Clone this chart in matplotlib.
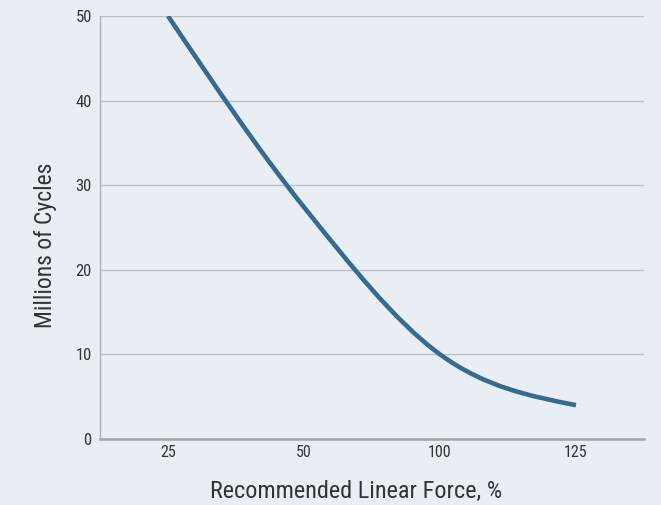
import matplotlib
matplotlib.use("Agg")
import matplotlib.pyplot as plt
from matplotlib.path import Path
from matplotlib.patches import PathPatch
from matplotlib import font_manager

# ---- data ----
categories = ["25", "50", "100", "125"]
cycles = [50.0, 27.4, 10.0, 4.0]
y_ticks = [0, 10, 20, 30, 40, 50]

BG = "#E9EEF5"
LINE = "#376B8E"
GRID = "#BDBFC2"
TEXT = "#333333"

# find a condensed / narrow font file if any
cands = []
for f in font_manager.fontManager.ttflist:
    fn = f.fname.lower()
    if ("narrow" in fn or "condensed" in fn) and "bold" not in fn and "italic" not in fn \
            and "oblique" not in fn and "light" not in fn and "thin" not in fn \
            and "medium" not in fn and "semi" not in fn and "black" not in fn:
        cands.append(f.fname)
cands.sort(key=lambda p: (0 if "liberationsansnarrow" in p.lower().replace("-", "") else
                          1 if "roboto" in p.lower() else
                          2 if "opensans" in p.lower().replace("-", "") else 3, p))
if cands:
    FP = font_manager.FontProperties(fname=cands[0])
    scale = 1.0
else:
    FP = font_manager.FontProperties(family="DejaVu Sans", stretch="condensed")
    scale = 0.82

fig = plt.figure(figsize=(6.61, 5.05), dpi=100, facecolor=BG)
ax = fig.add_axes([0.1513, 0.1307, 0.8230, 0.8376])
ax.set_facecolor(BG)

x = list(range(len(categories)))

# monotone cubic (d3 monotoneX style) tangents, drawn as Bezier curves
n = len(x)
sec = [(cycles[i + 1] - cycles[i]) / (x[i + 1] - x[i]) for i in range(n - 1)]
tan = [0.0] * n
for i in range(1, n - 1):
    s0, s1 = sec[i - 1], sec[i]
    if s0 * s1 <= 0:
        tan[i] = 0.0
    else:
        p = (s0 + s1) / 2
        sign = 1 if s0 > 0 else -1
        tan[i] = 2 * sign * min(abs(s0), abs(s1), 0.5 * abs(p))
tan[0] = (3 * sec[0] - tan[1]) / 2
tan[-1] = (3 * sec[-1] - tan[-2]) / 2

verts = [(x[0], cycles[0])]
codes = [Path.MOVETO]
for i in range(n - 1):
    h = x[i + 1] - x[i]
    verts += [(x[i] + h / 3, cycles[i] + tan[i] * h / 3),
              (x[i + 1] - h / 3, cycles[i + 1] - tan[i + 1] * h / 3),
              (x[i + 1], cycles[i + 1])]
    codes += [Path.CURVE4] * 3
ax.add_patch(PathPatch(Path(verts, codes), facecolor="none", edgecolor=LINE,
                       lw=3.3, capstyle="butt", joinstyle="round", zorder=3))

ax.set_xlim(-0.5, len(categories) - 0.5)
ax.set_ylim(0, 50)
ax.set_xticks(x)
ax.set_xticklabels(categories)
ax.set_yticks(y_ticks)

ax.grid(axis="y", color=GRID, lw=1.0)
ax.set_axisbelow(True)
for s in ["top", "right"]:
    ax.spines[s].set_visible(False)
ax.spines["left"].set_color("#AEB0B3")
ax.spines["left"].set_linewidth(1.0)
ax.spines["bottom"].set_color("#A2A4A7")
ax.spines["bottom"].set_linewidth(1.8)

ax.tick_params(axis="both", length=0, colors=TEXT)
ax.tick_params(axis="y", pad=6)
ax.tick_params(axis="x", pad=4)
for lab in ax.get_yticklabels():
    lab.set_fontproperties(FP)
    lab.set_fontsize(12 * scale)
for lab in ax.get_xticklabels():
    lab.set_fontproperties(FP)
    lab.set_fontsize(11.5 * scale)

ax.set_xlabel("Recommended Linear Force, %", fontproperties=FP, fontsize=17.5 * scale, color=TEXT)
ax.set_ylabel("Millions of Cycles", fontproperties=FP, fontsize=17 * scale, color=TEXT)
ax.xaxis.set_label_coords((356 - 100) / 544, -0.123)
ax.xaxis.label.set_va("center")
ax.yaxis.set_label_coords(-0.101, (439 - 245.5) / 423)
ax.yaxis.label.set_va("center")

fig.savefig("out.png", dpi=100, facecolor=BG)
